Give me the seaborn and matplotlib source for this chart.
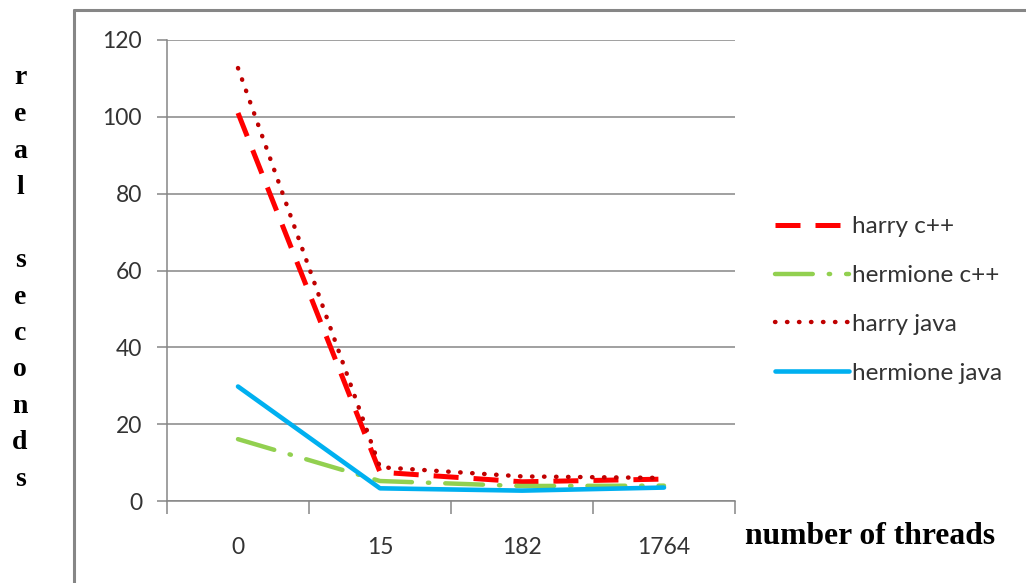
import matplotlib
matplotlib.use("Agg")
import matplotlib.pyplot as plt
from matplotlib.lines import Line2D
import numpy as np
import pandas as pd
import seaborn as sns

# Thread counts (categories) and measured wall-clock seconds
threads = ["0", "15", "182", "1764"]
harry_cpp = [101, 7.5, 5.0, 5.7]
hermione_cpp = [16.1, 5.2, 3.9, 4.0]
harry_java = [112.7, 8.8, 6.4, 6.0]
hermione_java = [29.8, 3.3, 2.7, 3.5]

sns.set_theme(style="white")
plt.rcParams["font.family"] = ["Lato", "DejaVu Sans"]

GRID = "#868686"
TEXT = "#333333"

fig = plt.figure(figsize=(10.26, 5.83), dpi=100)
ax = fig.add_axes([167 / 1026, 1 - 501 / 583, (735 - 167) / 1026, (501 - 40) / 583])

pos = np.arange(len(threads))
series = [
    ("harry c++", harry_cpp, "#FF0000", (0, (5, 3)), "butt", 3.6),
    ("hermione c++", hermione_cpp, "#92D050", (0, (8.5, 3.6, 0.3, 3.6)), "round", 3.2),
    ("harry java", harry_java, "#C00000", (0, (0.1, 2.6)), "round", 3.2),
    ("hermione java", hermione_java, "#00B0F0", "-", "round", 3.3),
]

handles = []
for name, vals, color, ls, cap, lw in series:
    df = pd.DataFrame({"threads": pos, "seconds": vals})
    sns.lineplot(data=df, x="threads", y="seconds", ax=ax, color=color,
                 linewidth=lw, sort=False)
    line = ax.get_lines()[-1]
    line.set_linestyle(ls)
    line.set_dash_capstyle(cap)
    line.set_solid_capstyle("round")
    handles.append(Line2D([], [], color=color, linewidth=lw, linestyle=ls,
                          dash_capstyle=cap, solid_capstyle="round", label=name))

ax.set_xlim(-0.5, len(threads) - 0.5)
ax.set_ylim(0, 120)
ax.set_yticks(np.arange(0, 121, 20))
ax.yaxis.grid(True, color=GRID, linewidth=1.1)
ax.xaxis.grid(False)

# category labels centred, tick marks on category boundaries
ax.set_xticks(pos)
ax.set_xticklabels(threads)
ax.set_xticks(np.arange(-0.5, len(threads), 1.0), minor=True)
ax.tick_params(axis="x", which="major", length=0, pad=26, labelsize=16.5,
               labelcolor=TEXT)
ax.tick_params(axis="x", which="minor", length=9, width=1.1, color=GRID,
               direction="out", bottom=True)
ax.tick_params(axis="y", which="major", length=7, width=1.1, color=GRID,
               direction="out", left=True, pad=11, labelsize=16.5,
               labelcolor=TEXT)

for side in ("top", "right"):
    ax.spines[side].set_visible(False)
for side in ("left", "bottom"):
    ax.spines[side].set_color(GRID)
    ax.spines[side].set_linewidth(1.1)

ax.set_xlabel("")
ax.set_ylabel("")

# stacked vertical axis title
ylabel = "real seconds"
y0 = 1 - 78 / 583
step = 36.5 / 583
for i, ch in enumerate(ylabel):
    if ch == " ":
        continue
    fig.text(20 / 1026, y0 - i * step, ch, ha="center", va="center",
             fontsize=20, fontweight="bold", family="Liberation Serif",
             color="black")

fig.text(745 / 1026, 1 - 536 / 583, "number of threads", ha="left",
         va="center", fontsize=22.8, fontweight="bold",
         family="Liberation Serif", color="black")

# outer chart frame
fig.add_artist(Line2D([74 / 1026, 74 / 1026], [0, 1 - 10 / 583],
                      transform=fig.transFigure, color=GRID, linewidth=2.2))
fig.add_artist(Line2D([74 / 1026, 1], [1 - 10 / 583, 1 - 10 / 583],
                      transform=fig.transFigure, color=GRID, linewidth=2.2))

fig.legend(handles=handles, loc="center left",
           bbox_to_anchor=(775 / 1026, 1 - 300 / 583), frameon=False,
           borderpad=0, borderaxespad=0,
           fontsize=17.5, handlelength=3.05, handletextpad=0.12,
           labelspacing=1.15, labelcolor=TEXT)

fig.savefig("out.png", dpi=100)
